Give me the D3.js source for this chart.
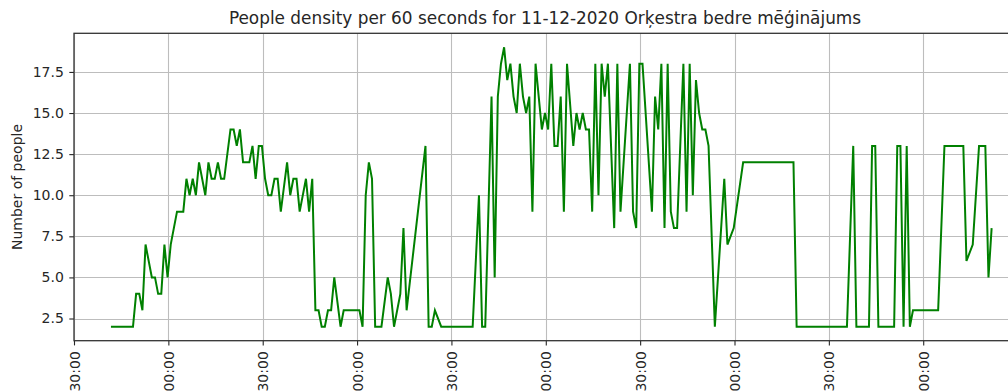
<!DOCTYPE html>
<html>
<head>
<meta charset="utf-8">
<script src="https://cdn.jsdelivr.net/npm/d3@7"></script>
<style>
  html, body { margin: 0; padding: 0; background: #fff; overflow: hidden; }
  svg { display: block; font-family: "DejaVu Sans", sans-serif; }
</style>
</head>
<body>
<svg id="chart" width="1008" height="392"></svg>
<script>
// Chart text
const chartTitle = "People density per 60 seconds for 11-12-2020 Orķestra bedre mēģinājums";
const yAxisLabel = "Number of people";

// First 60-second bucket of the session; the rest are minute offsets from it
const sessionStart = "2020-12-11 17:41:45";

const minuteOffsets = [
  0, 7, 8, 9, 10, 11, 13, 14, 15, 16, 17, 18, 19, 20, 21, 23,
  24, 25, 26, 27, 28, 30, 31, 32, 33, 34, 35, 36, 38, 39, 40, 41,
  42, 44, 45, 46, 47, 48, 49, 50, 51, 52, 53, 54, 56, 57, 58, 59,
  60, 62, 63, 64, 65, 66, 67, 68, 69, 70, 71, 73, 74, 79, 80, 81,
  82, 83, 84, 86, 88, 89, 90, 92, 93, 94, 100, 101, 102, 103, 105, 115,
  117, 118, 119, 121, 122, 123, 124, 125, 126, 127, 128, 129, 130, 131, 132, 133,
  134, 135, 136, 137, 138, 139, 140, 141, 142, 143, 144, 145, 147, 148, 149, 150,
  151, 152, 153, 154, 155, 156, 157, 158, 160, 161, 162, 165, 166, 167, 168, 169,
  172, 173, 174, 175, 176, 177, 178, 179, 180, 182, 183, 184, 185, 186, 187, 188,
  189, 190, 192, 195, 196, 198, 201, 217, 218, 234, 236, 237, 241, 242, 243, 244,
  249, 250, 251, 252, 253, 254, 255, 263, 265, 271, 272, 274, 276, 278, 279, 280
];

const peopleCounts = [
  2, 2, 4, 4, 3, 7, 5, 5, 4, 4, 7, 5, 7, 8, 9, 9,
  11, 10, 11, 10, 12, 10, 12, 11, 11, 12, 11, 11, 14, 14, 13, 14,
  12, 12, 13, 11, 13, 13, 11, 10, 10, 11, 11, 9, 12, 10, 11, 11,
  9, 11, 9, 11, 3, 3, 2, 2, 3, 3, 5, 2, 3, 3, 2, 10,
  12, 11, 2, 2, 5, 4, 2, 4, 8, 3, 13, 2, 2, 3, 2, 2,
  10, 2, 2, 16, 5, 16, 18, 19, 17, 18, 16, 15, 18, 16, 15, 16,
  9, 18, 16, 14, 15, 14, 18, 13, 13, 16, 9, 18, 13, 15, 14, 15,
  14, 14, 9, 18, 10, 18, 16, 18, 8, 18, 9, 18, 9, 8, 18, 18,
  9, 16, 14, 18, 8, 18, 9, 8, 8, 18, 9, 18, 10, 17, 15, 14,
  14, 13, 2, 11, 7, 8, 12, 12, 2, 2, 13, 2, 2, 13, 13, 2,
  2, 13, 13, 2, 13, 2, 3, 3, 13, 13, 6, 7, 13, 13, 5, 8
];

// Axis settings
const yTickValues = [2.5, 5.0, 7.5, 10.0, 12.5, 15.0, 17.5];
const xWindow = ["2020-12-11 17:30:00", "2020-12-11 22:29:30"];
const xTickMinutes = 30;

const parseTime = d3.timeParse("%Y-%m-%d %H:%M:%S");
const t0 = parseTime(sessionStart);
const series = minuteOffsets.map((m, i) => ({
  t: d3.timeMinute.offset(t0, m),
  v: peopleCounts[i]
}));

const plot = { left: 74, right: 1016, top: 33.3, bottom: 340.7 };

const svg = d3.select("#chart");

// x: time of day, y: people count padded by 5% like an autoscaled plot
const x = d3.scaleTime()
  .domain(xWindow.map(parseTime))
  .range([plot.left, plot.right]);

const [vMin, vMax] = d3.extent(peopleCounts);
const pad = (vMax - vMin) * 0.05;
const y = d3.scaleLinear()
  .domain([vMin - pad, vMax + pad])
  .range([plot.bottom, plot.top]);

const textColor = "#262626";
const gridColor = "#bdbdbd";
const tickFont = 14;

svg.append("defs").append("clipPath").attr("id", "plot-clip")
  .append("rect")
  .attr("x", plot.left).attr("y", plot.top)
  .attr("width", plot.right - plot.left)
  .attr("height", plot.bottom - plot.top);

// Grid
const xTicks = x.ticks(d3.timeMinute.every(xTickMinutes));
const grid = svg.append("g").attr("stroke", gridColor).attr("stroke-width", 1.1);
grid.selectAll("line.gx").data(xTicks).join("line")
  .attr("class", "gx")
  .attr("x1", d => Math.round(x(d)) + 0.5).attr("x2", d => Math.round(x(d)) + 0.5)
  .attr("y1", plot.top).attr("y2", plot.bottom);
grid.selectAll("line.gy").data(yTickValues).join("line")
  .attr("class", "gy")
  .attr("y1", d => Math.round(y(d)) + 0.5).attr("y2", d => Math.round(y(d)) + 0.5)
  .attr("x1", plot.left).attr("x2", plot.right);

// Data line
const line = d3.line()
  .x(d => x(d.t))
  .y(d => y(d.v));

svg.append("path")
  .datum(series)
  .attr("clip-path", "url(#plot-clip)")
  .attr("fill", "none")
  .attr("stroke", "#008000")
  .attr("stroke-width", 2)
  .attr("stroke-linejoin", "miter")
  .attr("d", line);

// Axes
const yAxis = d3.axisLeft(y)
  .tickValues(yTickValues)
  .tickFormat(d3.format(".1f"))
  .tickSize(4.7)
  .tickPadding(5.5);

const gy = svg.append("g")
  .attr("transform", `translate(${plot.left},0)`)
  .call(yAxis);
gy.select(".domain").remove();
gy.selectAll(".tick line").attr("stroke", textColor).attr("stroke-width", 1.1);
gy.selectAll(".tick text")
  .attr("fill", textColor)
  .attr("font-size", tickFont)
  .attr("font-family", "DejaVu Sans, sans-serif");

const xAxis = d3.axisBottom(x)
  .tickValues(xTicks)
  .tickFormat(d3.timeFormat("%H:%M:%S"))
  .tickSize(4.7)
  .tickPadding(4.7);

const gx = svg.append("g")
  .attr("transform", `translate(0,${plot.bottom})`)
  .call(xAxis);
gx.select(".domain").remove();
gx.selectAll(".tick line").attr("stroke", textColor).attr("stroke-width", 1.1);
gx.selectAll(".tick text")
  .attr("fill", textColor)
  .attr("font-size", tickFont)
  .attr("font-family", "DejaVu Sans, sans-serif")
  .attr("text-anchor", "end")
  .attr("dy", null)
  .attr("dominant-baseline", "central")
  .attr("transform", "translate(0,10.5) rotate(-90)")
  .attr("y", 0)
  .attr("x", 0);

// Frame
const frame = svg.append("g").attr("stroke", "#333").attr("stroke-width", 1.3).attr("fill", "none");
frame.append("rect")
  .attr("x", plot.left).attr("y", plot.top)
  .attr("width", plot.right - plot.left)
  .attr("height", plot.bottom - plot.top);

// Title and axis label
svg.append("text")
  .attr("x", (plot.left + plot.right) / 2)
  .attr("y", 24)
  .attr("text-anchor", "middle")
  .attr("fill", textColor)
  .attr("font-size", 16.9)
  .text(chartTitle);

svg.append("text")
  .attr("transform", `translate(17,${(plot.top + plot.bottom) / 2}) rotate(-90)`)
  .attr("text-anchor", "middle")
  .attr("dominant-baseline", "central")
  .attr("fill", textColor)
  .attr("font-size", tickFont)
  .text(yAxisLabel);
</script>
</body>
</html>
